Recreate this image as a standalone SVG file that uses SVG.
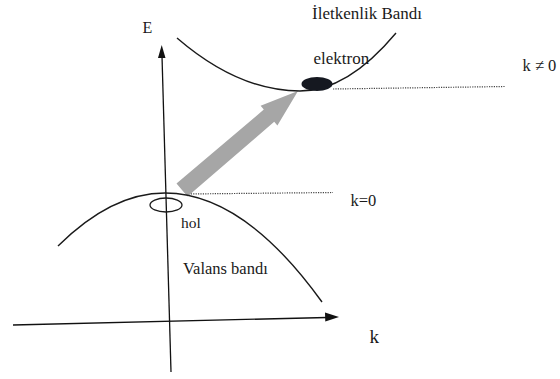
<svg xmlns="http://www.w3.org/2000/svg" width="560" height="379" viewBox="0 0 560 379">
<style>
.t{font-family:"Liberation Serif","Times New Roman",serif;fill:#1a1a1a}
.ax{stroke:#111;stroke-width:1.3;fill:none}
.band{stroke:#1a1a1a;stroke-width:1.4;fill:none}
.dot{stroke:#444;stroke-width:1.2;stroke-dasharray:1.2 1.2;fill:none}
</style>
<rect width="560" height="379" fill="#fff"/>
<g id="connectors">
<line class="ax" x1="171" y1="372" x2="162" y2="56"/>
<polygon points="161.7,45 158,58 165.5,58" fill="#111"/>
<line class="ax" x1="13" y1="325" x2="327" y2="317.5"/>
<polygon points="339,317 325,312.5 325.3,321.5" fill="#111"/>
<line class="dot" x1="333" y1="89" x2="505" y2="86.5"/>
<line class="dot" x1="186" y1="194" x2="333" y2="192.5"/>
<polygon id="transition" points="176.5,183.5 263.8,109.6 260.6,105.8 298,91 277.4,125.6 274.2,121.8 187.5,196.5" fill="#a6a6a6"/>
</g>
<g id="conduction-band">
<path class="band" d="M177,38 Q238.5,91 300,91 Q347.5,91 396,33"/>
<text class="t" x="312" y="18.5" font-size="17">İletkenlik Bandı</text>
</g>
<g id="electron">
<ellipse cx="317" cy="84" rx="15.5" ry="7" fill="#151820"/>
<text class="t" x="313.5" y="64" font-size="17">elektron</text>
</g>
<g id="valence-band">
<path class="band" d="M58,246 Q111.5,193 165,193 Q243.5,193 322,302"/>
<text class="t" x="183" y="274" font-size="16.5">Valans bandı</text>
</g>
<g id="hole">
<ellipse cx="166" cy="205" rx="16" ry="7" fill="none" stroke="#1a1a1a" stroke-width="1.3"/>
<text class="t" x="181" y="227.5" font-size="15.5">hol</text>
</g>
<g id="labels">
<text class="t" x="142.5" y="33" font-size="16">E</text>
<text class="t" x="369.5" y="342.5" font-size="19">k</text>
<text class="t" x="350.5" y="206" font-size="16.5">k=0</text>
<text class="t" x="522.5" y="71" font-size="16.5">k ≠ 0</text>
</g>
</svg>
